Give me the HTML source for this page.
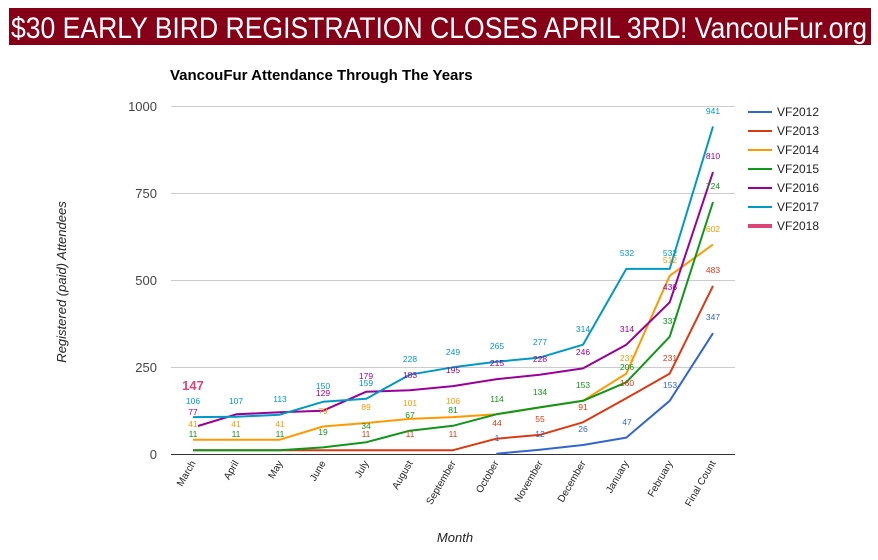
<!DOCTYPE html>
<html><head><meta charset="utf-8"><style>
html,body{margin:0;padding:0;background:#fff;}
svg{display:block;font-family:"Liberation Sans",Arial,sans-serif;}
</style></head><body>
<svg width="878" height="560" viewBox="0 0 878 560" xmlns="http://www.w3.org/2000/svg">
<rect x="0" y="0" width="878" height="560" fill="#fff"/>
<rect x="9" y="8" width="862" height="37" fill="#850017"/>
<text x="11" y="38" fill="#fff" font-size="30" textLength="856" lengthAdjust="spacingAndGlyphs">$30 EARLY BIRD REGISTRATION CLOSES APRIL 3RD! VancouFur.org</text>
<text x="170" y="80" font-size="15" font-weight="bold" fill="#000">VancouFur Attendance Through The Years</text>
<g stroke="#ccc" stroke-width="1">
<line x1="171" y1="106.5" x2="735" y2="106.5"/>
<line x1="171" y1="193.5" x2="735" y2="193.5"/>
<line x1="171" y1="280.5" x2="735" y2="280.5"/>
<line x1="171" y1="367.5" x2="735" y2="367.5"/>
</g>
<line x1="171" y1="454.5" x2="735" y2="454.5" stroke="#333" stroke-width="1"/>
<g font-size="13" fill="#444" text-anchor="end">
<text x="157" y="111">1000</text><text x="157" y="198">750</text><text x="157" y="285">500</text><text x="157" y="372">250</text><text x="157" y="459">0</text>
</g>
<text transform="translate(66,282) rotate(-90)" text-anchor="middle" font-size="13" font-style="italic" fill="#222">Registered (paid) Attendees</text>
<text x="455" y="542" text-anchor="middle" font-size="13" font-style="italic" fill="#222">Month</text>
<g font-size="10" fill="#222" text-anchor="end">
<text transform="translate(196,463) rotate(-60)">March</text>
<text transform="translate(239,463) rotate(-60)">April</text>
<text transform="translate(283,463) rotate(-60)">May</text>
<text transform="translate(326,463) rotate(-60)">June</text>
<text transform="translate(369,463) rotate(-60)">July</text>
<text transform="translate(413,463) rotate(-60)">August</text>
<text transform="translate(456,463) rotate(-60)">September</text>
<text transform="translate(499,463) rotate(-60)">October</text>
<text transform="translate(543,463) rotate(-60)">November</text>
<text transform="translate(586,463) rotate(-60)">December</text>
<text transform="translate(629,463) rotate(-60)">January</text>
<text transform="translate(673,463) rotate(-60)">February</text>
<text transform="translate(716,463) rotate(-60)">Final Count</text>
</g>
<g fill="none" stroke-width="2" stroke-linejoin="round">
<!-- 2013 red -->
<polyline stroke="#dc3912" points="193,450.2 236.3,450.2 279.7,450.2 323,450.2 366.3,450.2 409.7,450.2 453,450.2 496.3,438.7 539.7,434.9 583,422.3 626.3,398.3 669.7,373.6 713,285.9"/>
<!-- 2014 orange -->
<polyline stroke="#ff9900" points="193,439.7 236.3,439.7 279.7,439.7 323,426.5 366.3,423 409.7,418.9 453,417.1 496.3,414.3 539.7,407.4 583,400.8 626.3,373.6 669.7,275.8 713,244.5"/>
<!-- 2015 green -->
<polyline stroke="#109618" points="193,450.2 236.3,450.2 279.7,450.2 323,447.4 366.3,442.2 409.7,430.7 453,425.8 496.3,414.3 539.7,407.4 583,400.8 626.3,382.3 669.7,336.7 713,202"/>
<!-- 2012 blue -->
<polyline stroke="#3366cc" points="496.3,453.7 539.7,449.8 583,445 626.3,437.6 669.7,400.8 713,333.2"/>
<!-- 2016 purple -->
<polyline stroke="#990099" points="198,426 236.3,414.3 279.7,412.3 323,410.7 366.3,391.7 409.7,390.3 453,386.1 496.3,379.2 539.7,374.7 583,368.4 626.3,344.7 669.7,302.3 713,172.1"/>
<!-- 2017 cyan -->
<polyline stroke="#0099c6" points="193,417.1 236.3,416.8 279.7,414.7 323,401.8 366.3,398.7 409.7,374.7 453,367.3 496.3,361.8 539.7,357.6 583,344.7 626.3,268.9 669.7,268.9 713,126.5"/>
</g>
<g font-size="8.5" text-anchor="middle">
<g fill="#dc3912">
<text x="366" y="437">11</text><text x="410" y="437">11</text><text x="453" y="437">11</text>
<text x="497" y="426">44</text><text x="540" y="422">55</text><text x="583" y="410">91</text><text x="627" y="386">160</text><text x="670" y="361">231</text><text x="713" y="273">483</text>
</g>
<g fill="#ff9900">
<text x="193" y="427">41</text><text x="236" y="427">41</text><text x="280" y="427">41</text><text x="323" y="414">79</text><text x="366" y="410">89</text><text x="410" y="406">101</text><text x="453" y="404">106</text>
<text x="627" y="361">231</text><text x="670" y="263">512</text><text x="713" y="232">602</text>
</g>
<g fill="#109618">
<text x="193" y="437">11</text><text x="236" y="437">11</text><text x="280" y="437">11</text><text x="323" y="435">19</text><text x="366" y="429">34</text><text x="410" y="418">67</text><text x="453" y="413">81</text>
<text x="497" y="402">114</text><text x="540" y="395">134</text><text x="583" y="388">153</text><text x="627" y="370">206</text><text x="670" y="324">337</text><text x="713" y="189">724</text>
</g>
<g fill="#3366cc">
<text x="497" y="441">1</text><text x="540" y="437">12</text><text x="583" y="432">26</text><text x="627" y="425">47</text><text x="670" y="388">153</text><text x="713" y="320">347</text>
</g>
<g fill="#990099">
<text x="193" y="415">77</text><text x="323" y="396">129</text><text x="366" y="379">179</text><text x="410" y="378">183</text><text x="453" y="373">195</text><text x="497" y="366">215</text><text x="540" y="362">228</text><text x="583" y="355">246</text><text x="627" y="332">314</text><text x="670" y="290">436</text><text x="713" y="159">810</text>
</g>
<g fill="#0099c6">
<text x="193" y="404">106</text><text x="236" y="404">107</text><text x="280" y="402">113</text><text x="323" y="389">150</text><text x="366" y="386">159</text><text x="410" y="362">228</text><text x="453" y="355">249</text><text x="497" y="349">265</text><text x="540" y="345">277</text><text x="583" y="332">314</text><text x="627" y="256">532</text><text x="670" y="256">532</text><text x="713" y="114">941</text>
</g>
</g>
<text x="193" y="390" text-anchor="middle" font-size="13" font-weight="bold" fill="#dd4477">147</text>
<g font-size="12" fill="#222">
<line x1="748" y1="112" x2="772" y2="112" stroke="#3366cc" stroke-width="2"/><text x="777" y="116">VF2012</text>
<line x1="748" y1="131" x2="772" y2="131" stroke="#dc3912" stroke-width="2"/><text x="777" y="135">VF2013</text>
<line x1="748" y1="150" x2="772" y2="150" stroke="#ff9900" stroke-width="2"/><text x="777" y="154">VF2014</text>
<line x1="748" y1="169" x2="772" y2="169" stroke="#109618" stroke-width="2"/><text x="777" y="173">VF2015</text>
<line x1="748" y1="188" x2="772" y2="188" stroke="#990099" stroke-width="2"/><text x="777" y="192">VF2016</text>
<line x1="748" y1="207" x2="772" y2="207" stroke="#0099c6" stroke-width="2"/><text x="777" y="211">VF2017</text>
<line x1="748" y1="226" x2="772" y2="226" stroke="#dd4477" stroke-width="4"/><text x="777" y="230">VF2018</text>
</g>
</svg>
</body></html>
